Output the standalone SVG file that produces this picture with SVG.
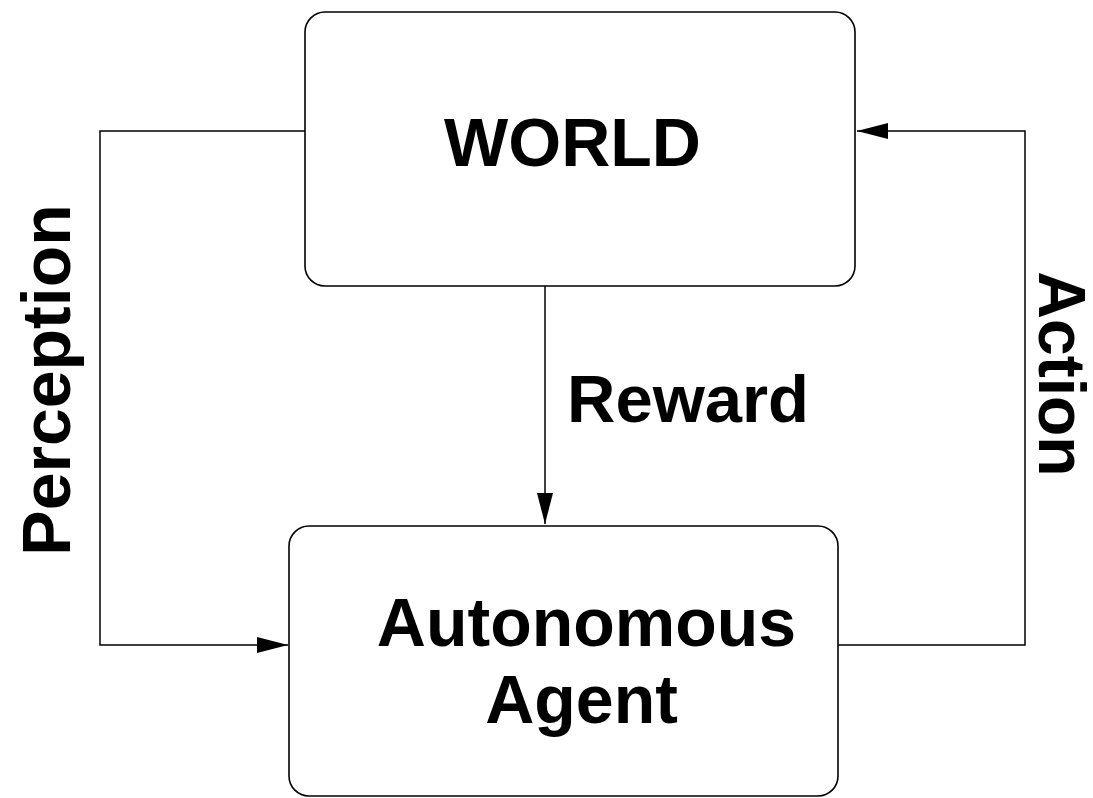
<svg xmlns="http://www.w3.org/2000/svg" width="1093" height="798" viewBox="0 0 1093 798">
<defs>
<style>
.box{fill:#fff;stroke:#000;stroke-width:1.6}
.ln{fill:none;stroke:#000;stroke-width:1.5}
.t{font-family:"Liberation Sans",Arial,sans-serif;font-weight:bold;font-size:68px;fill:#000}
</style>
<marker id="ah" markerWidth="31" markerHeight="16" refX="31" refY="8" orient="auto" markerUnits="userSpaceOnUse">
<path d="M0,0 L31,8 L0,16 Z" fill="#000"/>
</marker>
</defs>
<rect width="1093" height="798" fill="#fff"/>
<g id="connectors">
<polyline class="ln" points="305,131 100,131 100,645 288,645" marker-end="url(#ah)"/>
<line class="ln" x1="545" y1="286" x2="545" y2="524" marker-end="url(#ah)"/>
<polyline class="ln" points="838,645 1025,645 1025,131 857,131" marker-end="url(#ah)"/>
</g>
<g id="world">
<rect class="box" x="305" y="12" width="550" height="274" rx="20"/>
<text class="t" x="572.5" y="166" text-anchor="middle">WORLD</text>
</g>
<g id="agent">
<rect class="box" x="289" y="526" width="549" height="270" rx="20"/>
<text class="t" x="586.5" y="646" text-anchor="middle">Autonomous</text>
<text class="t" x="581.5" y="723" text-anchor="middle">Agent</text>
</g>
<g id="labels">
<text class="t" x="567" y="422" style="font-size:67px">Reward</text>
<text class="t" transform="translate(70,380) rotate(-90)" text-anchor="middle">Perception</text>
<text class="t" transform="translate(1039,374) rotate(90)" text-anchor="middle" style="font-size:66px">Action</text>
</g>
</svg>
